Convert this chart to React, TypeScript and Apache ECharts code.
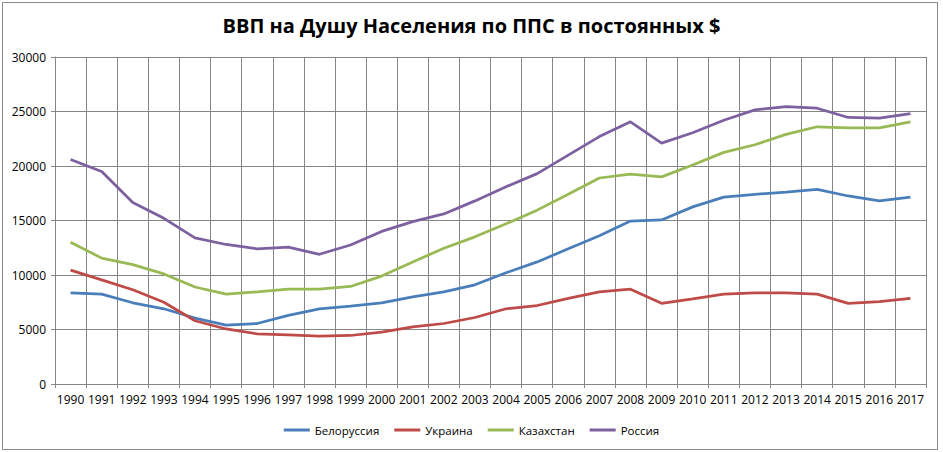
import React, { useEffect, useRef } from "react";
import * as echarts from "echarts";

const years = [
  "1990", "1991", "1992", "1993", "1994", "1995", "1996", "1997", "1998", "1999",
  "2000", "2001", "2002", "2003", "2004", "2005", "2006", "2007", "2008", "2009",
  "2010", "2011", "2012", "2013", "2014", "2015", "2016", "2017",
];

const belarus = [
  8350, 8250, 7450, 6900, 6050, 5400, 5550, 6300, 6900, 7150,
  7450, 8000, 8450, 9100, 10200, 11200, 12400, 13600, 14950, 15050,
  16250, 17150, 17400, 17600, 17850, 17250, 16800, 17150,
];

const ukraine = [
  10450, 9550, 8650, 7500, 5800, 5050, 4600, 4500, 4400, 4450,
  4750, 5250, 5550, 6100, 6900, 7200, 7850, 8450, 8700, 7400,
  7800, 8250, 8350, 8350, 8250, 7400, 7550, 7850,
];

const kazakhstan = [
  13000, 11550, 10950, 10100, 8900, 8250, 8450, 8700, 8700, 8950,
  9900, 11200, 12450, 13500, 14700, 15950, 17400, 18900, 19250, 19000,
  20100, 21250, 21950, 22900, 23600, 23500, 23500, 24050,
];

const russia = [
  20600, 19500, 16650, 15200, 13400, 12800, 12400, 12550, 11900, 12750,
  14000, 14900, 15600, 16800, 18100, 19300, 21000, 22700, 24050, 22100,
  23050, 24200, 25150, 25450, 25300, 24450, 24400, 24800,
];

const seriesNames = ["Белоруссия", "Украина", "Казахстан", "Россия"];
const seriesColors = ["#4A7EBB", "#BE4B48", "#98B954", "#7D60A0"];
const seriesData = [belarus, ukraine, kazakhstan, russia];

const FONT = "'Open Sans', sans-serif";

export default function App() {
  const ref = useRef<HTMLDivElement>(null);

  useEffect(() => {
    document.body.style.margin = "0";
    if (!ref.current) return;
    const chart = echarts.init(ref.current, null, { renderer: "svg" });
    chart.setOption({
      animation: false,
      backgroundColor: "#ffffff",
      title: {
        text: "ВВП на Душу Населения по ППС в постоянных $",
        left: "center",
        top: 10,
        textStyle: {
          fontFamily: FONT,
          fontWeight: "bold",
          fontSize: 20,
          color: "#000000",
        },
      },
      graphic: [
        {
          type: "rect",
          shape: { x: 2.5, y: 2.5, width: 935, height: 447 },
          style: { fill: "none", stroke: "#8a8a8a", lineWidth: 1 },
          silent: true,
        },
      ],
      legend: {
        bottom: 11,
        left: "center",
        icon: "rect",
        itemWidth: 26,
        itemHeight: 3,
        itemGap: 15,
        textStyle: { fontFamily: FONT, fontSize: 11.5, color: "#000000" },
        data: seriesNames,
      },
      grid: { left: 55, right: 17, top: 57, bottom: 68 },
      xAxis: {
        type: "category",
        data: years,
        boundaryGap: true,
        axisLine: { lineStyle: { color: "#868686", width: 1 } },
        axisTick: { show: true, length: 4, lineStyle: { color: "#868686" } },
        axisLabel: {
          fontFamily: FONT,
          fontSize: 12,
          color: "#000000",
          margin: 9,
          interval: 0,
        },
        splitLine: { show: true, lineStyle: { color: "#868686", width: 1 } },
      },
      yAxis: {
        type: "value",
        min: 0,
        max: 30000,
        interval: 5000,
        axisLine: { show: true, lineStyle: { color: "#868686", width: 1 } },
        axisTick: { show: true, length: 4, lineStyle: { color: "#868686" } },
        axisLabel: {
          fontFamily: FONT,
          fontSize: 12,
          color: "#000000",
          margin: 9,
          formatter: (v: number) => String(v),
        },
        splitLine: { show: true, lineStyle: { color: "#868686", width: 1 } },
      },
      series: seriesNames.map((name, i) => ({
        name,
        type: "line",
        data: seriesData[i],
        symbol: "none",
        smooth: false,
        color: seriesColors[i],
        lineStyle: { width: 2.75, color: seriesColors[i] },
      })),
    });
    return () => chart.dispose();
  }, []);

  return <div ref={ref} style={{ width: 943, height: 452 }} />;
}
